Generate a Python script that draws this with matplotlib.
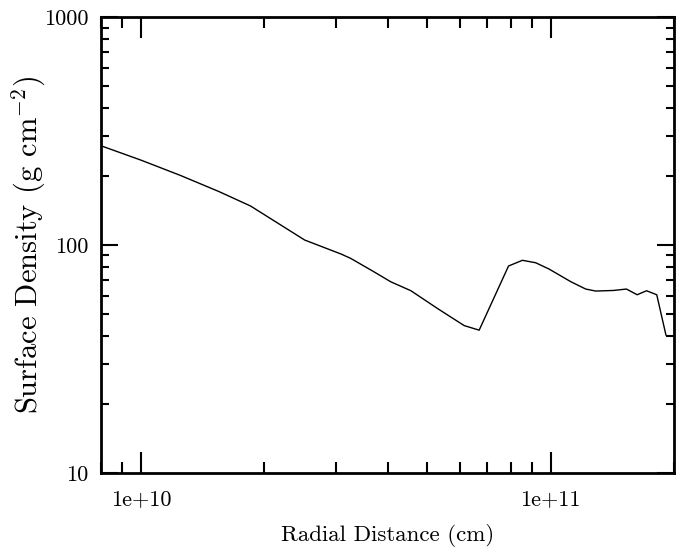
import numpy as np
import matplotlib
matplotlib.use("Agg")
import matplotlib.pyplot as plt
from matplotlib.ticker import FixedLocator, FixedFormatter, LogLocator, NullFormatter

plt.rcParams['font.family'] = ['cmr10', 'DejaVu Serif']
plt.rcParams['mathtext.fontset'] = 'cm'
plt.rcParams['axes.unicode_minus'] = False

# radial distance (cm) and surface density (g cm^-2)
radius = [8.0e9, 1.0e10, 1.25e10, 1.553e10, 1.853e10, 2.51e10, 3.08e10, 3.25e10,
          3.70e10, 4.07e10, 4.56e10, 5.29e10, 6.15e10, 6.69e10, 7.89e10, 8.53e10,
          9.19e10, 9.90e10, 1.12e11, 1.217e11, 1.288e11, 1.426e11, 1.53e11,
          1.625e11, 1.713e11, 1.814e11, 1.91e11]
density = [272.6, 236.0, 202.0, 171.5, 148.3, 105.2, 91.3, 87.4,
           76.4, 69.0, 63.0, 52.7, 44.3, 42.3, 80.9, 85.7,
           83.6, 78.5, 69.0, 64.1, 62.8, 63.2, 64.1,
           60.5, 63.0, 60.5, 40.3]

x_ticks = [1e10, 1e11]
x_tick_labels = ['1e+10', '1e+11']
y_ticks = [10, 100, 1000]
y_tick_labels = ['10', '100', '1000']

fig = plt.figure(figsize=(6.83, 5.55), dpi=100)
ax = fig.add_axes([0.148, 0.148, 0.839, 0.821])

ax.plot(radius, density, color='black', lw=1.0)

ax.set_xscale('log')
ax.set_yscale('log')
ax.set_xlim(8.0e9, 2.0e11)
ax.set_ylim(10, 1000)

ax.xaxis.set_major_locator(FixedLocator(x_ticks))
ax.xaxis.set_major_formatter(FixedFormatter(x_tick_labels))
ax.yaxis.set_major_locator(FixedLocator(y_ticks))
ax.yaxis.set_major_formatter(FixedFormatter(y_tick_labels))
ax.xaxis.set_minor_locator(LogLocator(base=10, subs=np.arange(2, 10)))
ax.yaxis.set_minor_locator(LogLocator(base=10, subs=np.arange(2, 10)))
ax.xaxis.set_minor_formatter(NullFormatter())
ax.yaxis.set_minor_formatter(NullFormatter())

ax.tick_params(which='both', direction='in', top=True, right=True, width=1.5, labelsize=16)
ax.tick_params(axis='x', which='major', length=15, pad=12)
ax.tick_params(axis='x', which='minor', length=8)
ax.tick_params(axis='y', which='major', length=12, pad=9)
ax.tick_params(axis='y', which='minor', length=6)

for s in ax.spines.values():
    s.set_linewidth(2)

ax.set_xlabel('Radial Distance (cm)', fontsize=16.5)
ax.set_ylabel(r'Surface Density (g cm$^{-2}$)', fontsize=22)
ax.xaxis.set_label_coords(0.5, -0.112)
ax.yaxis.set_label_coords(-0.092, 0.5)

fig.savefig('out.png', dpi=100)
